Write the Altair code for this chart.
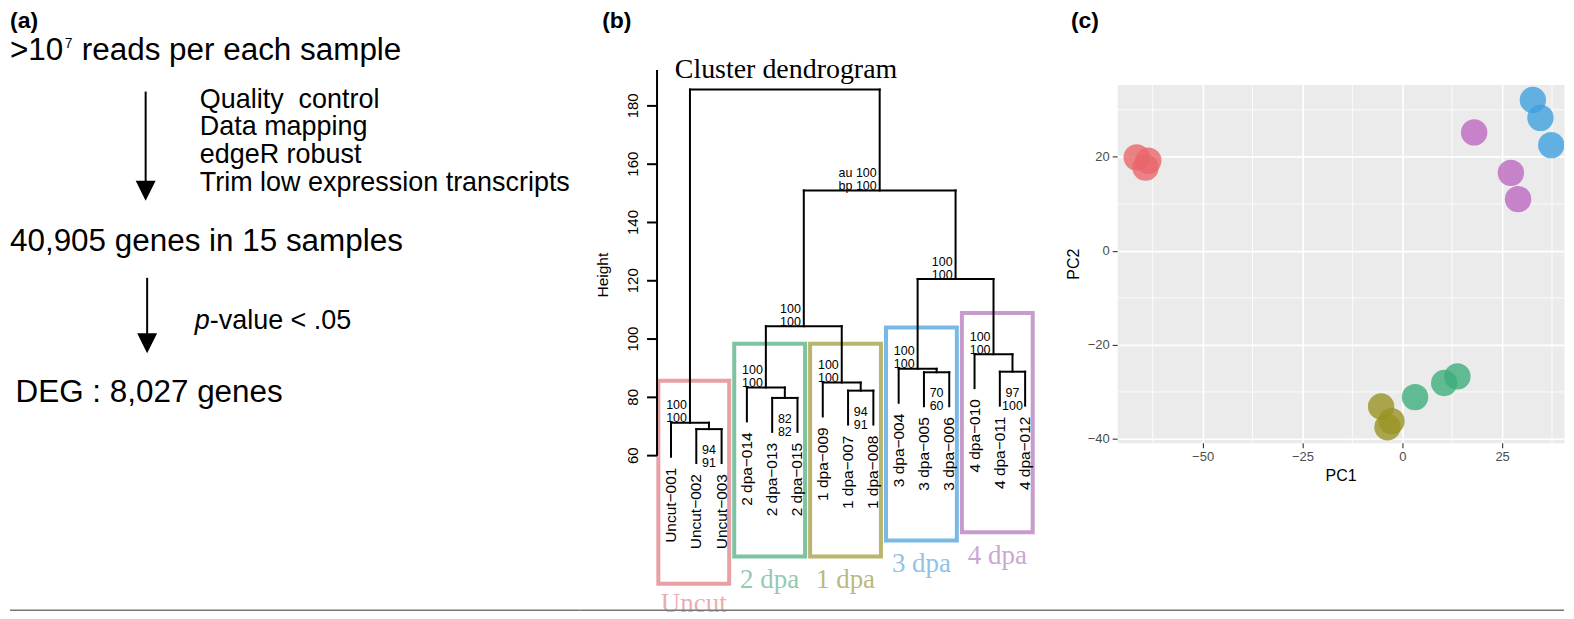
import altair as alt
import pandas as pd

# ---------------- (a) workflow ----------------
flow_main = [">10", "40,905 genes in 15 samples", "DEG : 8,027 genes"]
flow_sup = "7"
flow_line1_rest = "reads per each sample"
flow_steps = ["Quality\u00a0 control", "Data mapping", "edgeR robust", "Trim low expression transcripts"]
filter_italic = "p"
filter_rest = "-value < .05"

# ---------------- (b) dendrogram (pvclust) ----------------
leaf_labels = ["Uncut\u2212001", "Uncut\u2212002", "Uncut\u2212003",
               "2 dpa\u2212014", "2 dpa\u2212013", "2 dpa\u2212015",
               "1 dpa\u2212009", "1 dpa\u2212007", "1 dpa\u2212008",
               "3 dpa\u2212004", "3 dpa\u2212005", "3 dpa\u2212006",
               "4 dpa\u2212010", "4 dpa\u2212011", "4 dpa\u2212012"]
# hclust-style merges: negative = leaf (1-based), positive = earlier merge (1-based)
merge_left = [-2, -1, -5, -8, -4, -7, -11, -14, -10, -13, 5, 9, 11, 2]
merge_right = [-3, 1, -6, -9, 3, 4, -12, -15, 7, 8, 6, 10, 12, 13]
merge_height = [69.1, 71.3, 79.8, 82.3, 83.4, 85.1, 88.6, 88.8, 89.8, 94.8, 104.4, 120.6, 151.0, 185.6]
merge_au = [94, 100, 82, 94, 100, 100, 70, 97, 100, 100, 100, 100, 100, None]
merge_bp = [91, 100, 82, 91, 100, 100, 60, 100, 100, 100, 100, 100, 100, None]
merge_label_side = ["below", "above", "below", "below", "above", "above", "below",
                    "below", "above", "above", "above", "above", "above", None]
height_ticks = [60, 80, 100, 120, 140, 160, 180]
axis_top = 192.3

group_names = ["Uncut", "2 dpa", "1 dpa", "3 dpa", "4 dpa"]
group_first_leaf = [1, 4, 7, 10, 13]
group_last_leaf = [3, 6, 9, 12, 15]
box_top = [85.7, 98.4, 98.4, 104.0, 108.9]
box_bottom = [16.0, 25.4, 25.4, 30.9, 33.7]
box_colors = ["#E8A0A5", "#7DC3A0", "#B9B46E", "#78B9E6", "#C89BCD"]
label_colors = ["#ECACB0", "#96C9B0", "#BCB87C", "#92C2E6", "#CDA6D2"]

# ---------------- (c) PCA ----------------
pc_group = ["Uncut"] * 3 + ["1 dpa"] * 3 + ["2 dpa"] * 3 + ["3 dpa"] * 3 + ["4 dpa"] * 3
pc1 = [-66.5, -63.6, -64.3, -5.3, -2.7, -3.7, 3.2, 10.5, 13.8, 32.7, 34.6, 37.3, 18.0, 27.2, 29.0]
pc2 = [19.9, 19.2, 17.7, -33.1, -36.2, -37.5, -31.1, -28.1, -26.7, 32.1, 28.3, 22.5, 25.2, 16.6, 11.0]
pc_groups_order = ["Uncut", "1 dpa", "2 dpa", "3 dpa", "4 dpa"]
pc_colors = ["#E8676B", "#9A9424", "#3DAE7C", "#40A0DE", "#BE69C1"]
pc1_ticks = [-50, -25, 0, 25]
pc2_ticks = [-40, -20, 0, 20]
pc1_minor = [-62.5, -37.5, -12.5, 12.5, 37.5]
pc2_minor = [-30, -10, 10, 30]

SANS = "Liberation Sans"
SERIF = "Liberation Serif"
H = 603
one = pd.DataFrame({"t": [""]})


def txt(s, x, y, size, **kw):
    return alt.Chart(pd.DataFrame({"t": [s]})).mark_text(
        x=x, y=y, fontSize=size, font=kw.pop("font", SANS), align=kw.pop("align", "left"),
        baseline=kw.pop("baseline", "alphabetic"), color=kw.pop("color", "black"), **kw
    ).encode(text="t:N")


def arrow(x, y0, y1, yc):
    line = alt.Chart(one).mark_rule(color="black", strokeWidth=2).encode(
        x=alt.value(x), y=alt.value(y0), y2=alt.value(y1))
    head = alt.Chart(one).mark_point(shape="M-1,-1L1,-1L0,1Z", filled=True, size=400,
                                     color="black", opacity=1).encode(
        x=alt.value(x), y=alt.value(yc))
    return line + head


WA = 572
panel_a = alt.layer(
    txt("(a)", 0, 0, 23, baseline="top", fontWeight="bold"),
    txt(flow_main[0], 0, 50.3, 31.5),
    txt(flow_sup, 55, 38.7, 14),
    txt(flow_line1_rest, 72, 50.3, 31.5),
    arrow(136, 82, 176, 181.5),
    *[txt(s, 190.3, 98 + 27.8 * i, 27) for i, s in enumerate(flow_steps)],
    txt(flow_main[1], 0, 242, 31.5),
    arrow(137.5, 268.7, 328, 334.3),
    txt(filter_italic, 185.3, 320.3, 27, fontStyle="italic"),
    txt(filter_rest, 200.3, 320.3, 27),
    txt(flow_main[2], 5.6, 393.7, 31.5),
    alt.Chart(one).mark_rule(color="#777777", strokeWidth=1.5).encode(
        x=alt.value(0), x2=alt.value(WA), y=alt.value(H - 1)),
).properties(width=WA, height=H)

# ---------------- build dendrogram geometry ----------------
n_merge = len(merge_height)
hang = 0.1 * (max(merge_height) - min(merge_height))


def order_of(node):
    if node < 0:
        return [-node]
    return order_of(merge_left[node - 1]) + order_of(merge_right[node - 1])


leaf_order = order_of(n_merge)
leaf_pos = {leaf: i for i, leaf in enumerate(leaf_order)}
node_x = {}
for k in range(1, n_merge + 1):
    xs_ = [leaf_pos[-c] if c < 0 else node_x[c] for c in (merge_left[k - 1], merge_right[k - 1])]
    node_x[k] = sum(xs_) / 2.0

seg_rows, leaf_rows = [], []
for k in range(1, n_merge + 1):
    h = merge_height[k - 1]
    cl, cr = merge_left[k - 1], merge_right[k - 1]
    xl = leaf_pos[-cl] if cl < 0 else node_x[cl]
    xr = leaf_pos[-cr] if cr < 0 else node_x[cr]
    seg_rows.append({"x": xl, "x2": xr, "y": h, "y2": h})
    for c in (cl, cr):
        if c < 0:
            xc = leaf_pos[-c]
            seg_rows.append({"x": xc, "x2": xc, "y": h - hang, "y2": h})
            leaf_rows.append({"x": xc, "y": h - hang, "label": leaf_labels[-c - 1]})
        else:
            xc = node_x[c]
            seg_rows.append({"x": xc, "x2": xc, "y": merge_height[c - 1], "y2": h})
seg_df = pd.DataFrame(seg_rows)
leaf_df = pd.DataFrame(leaf_rows)

top_labeled = max(i for i in range(n_merge) if merge_au[i] is not None)
lab_rows = []
for i in range(n_merge):
    if merge_au[i] is None:
        continue
    pre_au = "au " if i == top_labeled else ""
    pre_bp = "bp " if i == top_labeled else ""
    lab_rows.append({"x": node_x[i + 1], "y": merge_height[i], "side": merge_label_side[i],
                     "au": pre_au + str(merge_au[i]), "bp": pre_bp + str(merge_bp[i])})
lab_df = pd.DataFrame(lab_rows)

WB = 538
y_lo, y_hi = 6.61, 212.98
px_per_unit = H / (y_hi - y_lo)
xb = alt.Scale(domain=[-3.5765, 17.638], nice=False, zero=False)
yb = alt.Scale(domain=[y_lo, y_hi], nice=False, zero=False)
XB = lambda f: alt.X(f, scale=xb, axis=None)
YB = lambda f: alt.Y(f, scale=yb, axis=None)

box_df = pd.DataFrame({
    "group": group_names,
    "x0": [leaf_pos[f] - 0.5 for f in group_first_leaf],
    "x1": [leaf_pos[l] + 0.3 for l in group_last_leaf],
    "top": box_top, "bottom": box_bottom,
})
box_df["xc"] = (box_df["x0"] + box_df["x1"]) / 2
# label baseline 24px under the box, kept inside the panel
box_df["laby"] = [max(b - 24 / px_per_unit, y_lo + 7 / px_per_unit) for b in box_bottom]

segs = alt.Chart(seg_df).mark_rule(color="black", strokeWidth=2, strokeCap="square").encode(
    x=XB("x:Q"), x2="x2:Q", y=YB("y:Q"), y2="y2:Q")
leaves = alt.Chart(leaf_df).mark_text(angle=270, align="right", baseline="middle", dx=-11,
                                      fontSize=15.5, font=SANS, color="black").encode(
    x=XB("x:Q"), y=YB("y:Q"), text="label:N")
above = alt.Chart(lab_df).transform_filter(alt.datum.side == "above")
below = alt.Chart(lab_df).transform_filter(alt.datum.side == "below")
LF = 12.5
lab_layers = [
    above.mark_text(align="right", dx=-3, dy=-17.5, fontSize=LF, font=SANS).encode(
        x=XB("x:Q"), y=YB("y:Q"), text="au:N"),
    above.mark_text(align="right", dx=-3, dy=-4.5, fontSize=LF, font=SANS).encode(
        x=XB("x:Q"), y=YB("y:Q"), text="bp:N"),
    below.mark_text(align="center", dy=21, fontSize=LF, font=SANS).encode(
        x=XB("x:Q"), y=YB("y:Q"), text="au:N"),
    below.mark_text(align="center", dy=34, fontSize=LF, font=SANS).encode(
        x=XB("x:Q"), y=YB("y:Q"), text="bp:N"),
]
boxes = alt.Chart(box_df).mark_rect(fillOpacity=0, strokeWidth=4).encode(
    x=XB("x0:Q"), x2="x1:Q", y=YB("top:Q"), y2="bottom:Q",
    stroke=alt.Stroke("group:N", scale=alt.Scale(domain=group_names, range=box_colors), legend=None))
box_labels = alt.Chart(box_df).mark_text(fontSize=27, font=SERIF).encode(
    x=XB("xc:Q"), y=YB("laby:Q"), text="group:N",
    color=alt.Color("group:N", scale=alt.Scale(domain=group_names, range=label_colors), legend=None))

tick_df = pd.DataFrame({"v": height_ticks, "lab": [str(v) for v in height_ticks]})
ax_line = alt.Chart(pd.DataFrame({"lo": [min(height_ticks)], "hi": [axis_top]})).mark_rule(
    color="black", strokeWidth=2).encode(x=alt.value(76.7), y=YB("lo:Q"), y2="hi:Q")
ax_ticks = alt.Chart(tick_df).mark_rule(color="black", strokeWidth=2).encode(
    x=alt.value(66.7), x2=alt.value(76.7), y=YB("v:Q"))
ax_labels = alt.Chart(tick_df).mark_text(angle=270, align="center", baseline="middle",
                                         fontSize=15, font=SANS).encode(
    x=alt.value(52.7), y=YB("v:Q"), text="lab:N")

panel_b = alt.layer(
    boxes, segs, leaves, *lab_layers, box_labels, ax_line, ax_ticks, ax_labels,
    txt("Height", 22.5, 266, 15.5, angle=270, align="center", baseline="middle"),
    txt("Cluster dendrogram", 206, 68.7, 28, font=SERIF, align="center"),
    txt("(b)", 21.7, 0, 23, baseline="top", fontWeight="bold"),
    txt("(c)", 491.7, 0, 23, baseline="top", fontWeight="bold"),
    alt.Chart(one).mark_rule(color="#777777", strokeWidth=1.5).encode(
        x=alt.value(0), x2=alt.value(WB), y=alt.value(H - 1)),
).properties(width=WB, height=H)

# ---------------- PCA panel ----------------
WC, HC, TOPC = 448, 359, 75
pc_df = pd.DataFrame({"PC1": pc1, "PC2": pc2, "group": pc_group})
xs = alt.Scale(domain=[-71.4, 40.5], nice=False, zero=False)
ys = alt.Scale(domain=[-40.79, 35.37], nice=False, zero=False)
ax_common = dict(domain=False, grid=True, gridColor="white", gridWidth=1.6,
                 tickColor="#333333", tickSize=5, tickWidth=1.1, labelColor="#4D4D4D",
                 labelFontSize=13, labelFont=SANS, labelPadding=3, titleFont=SANS,
                 titleFontSize=16, titleFontWeight="normal", titleColor="black")
xax = alt.Axis(values=pc1_ticks, title="PC1", titlePadding=4, **ax_common)
yax = alt.Axis(values=pc2_ticks, title="PC2", titlePadding=6, **ax_common)

minor_x = alt.Chart(pd.DataFrame({"v": pc1_minor})).mark_rule(color="white", strokeWidth=0.8).encode(
    x=alt.X("v:Q", scale=xs, axis=xax))
minor_y = alt.Chart(pd.DataFrame({"v": pc2_minor})).mark_rule(color="white", strokeWidth=0.8).encode(
    y=alt.Y("v:Q", scale=ys, axis=yax))
points = alt.Chart(pc_df).mark_point(filled=True, shape="circle", size=700, clip=True,
                                     opacity=1, fillOpacity=0.8, strokeWidth=0).encode(
    x=alt.X("PC1:Q", scale=xs, axis=xax),
    y=alt.Y("PC2:Q", scale=ys, axis=yax),
    fill=alt.Fill("group:N", scale=alt.Scale(domain=pc_groups_order, range=pc_colors), legend=None))
panel_c = alt.layer(minor_x, minor_y, points).properties(
    width=WC, height=HC, view=alt.ViewBackground(fill="#EBEBEB", stroke="transparent"))

spacer_top = alt.Chart(one).mark_text().encode(text="t:N").properties(width=WC, height=TOPC)
spacer_bottom = alt.Chart(one).mark_rule(color="#777777", strokeWidth=1.5).encode(
    x=alt.value(0), x2=alt.value(WC), y=alt.value(H - TOPC - HC - 1)).properties(
    width=WC, height=H - TOPC - HC)
col_c = alt.vconcat(spacer_top, panel_c, spacer_bottom, spacing=0, bounds="flush")

chart = alt.hconcat(panel_a, panel_b, col_c, spacing=0, bounds="flush").properties(
    padding=0, background="white"
).configure_view(stroke="transparent")

chart.save("out.html", embed_options={"renderer": "svg", "actions": False})
